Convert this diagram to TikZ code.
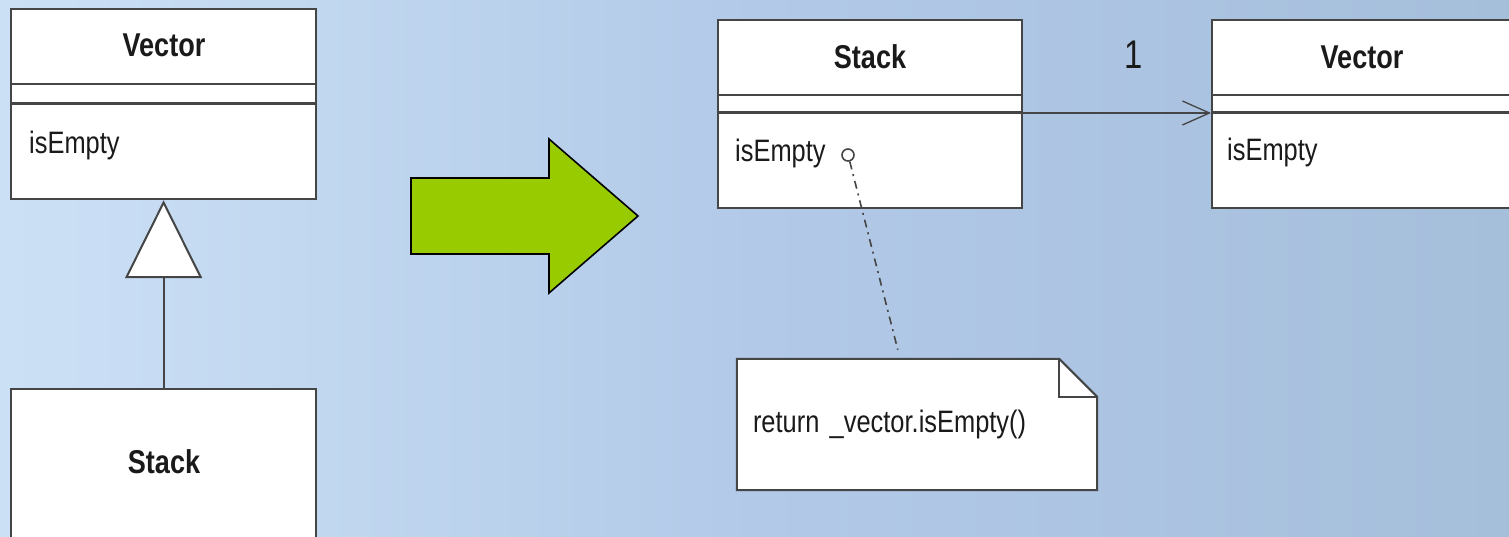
\documentclass[tikz,border=0pt]{standalone}
\usepackage{fontspec}
\setmainfont[FakeStretch=0.82]{Liberation Sans}
\usetikzlibrary{arrows.meta,calc}
\definecolor{bgA}{HTML}{E8F0FA}
\definecolor{bgB}{HTML}{C9DEF4}
\definecolor{bgC}{HTML}{B2CAE8}
\definecolor{bgD}{HTML}{A5BEDA}
\definecolor{bgE}{HTML}{A0BBD7}
\definecolor{boxline}{HTML}{454545}
\definecolor{txt}{HTML}{1A1A1A}
\definecolor{arrowgreen}{HTML}{99CC00}
\pgfdeclarehorizontalshading{bgshade}{100bp}{color(0bp)=(bgA); color(28bp)=(bgB); color(50bp)=(bgC); color(75bp)=(bgD); color(100bp)=(bgE)}
\pgfdeclarelayer{bglayer}
\pgfdeclarelayer{notelayer}
\pgfsetlayers{bglayer,notelayer,main}
\tikzset{
  classbox/.style={draw=boxline, fill=white, line width=2.2pt, rectangle, inner sep=0pt, anchor=north west},
  classtitle/.style={font=\fontsize{33}{36}\selectfont\bfseries, text=txt, inner sep=0pt},
  member/.style={font=\fontsize{31}{34}\selectfont, text=txt, anchor=west, inner sep=0pt},
  septhin/.style={draw=boxline, line width=1.6pt},
  septhick/.style={draw=boxline, line width=3pt},
  notetext/.style={font=\fontsize{31}{34}\selectfont, text=txt, inner sep=16pt, align=left},
  noteline/.style={draw=boxline, line width=2pt, line join=miter}
}
\begin{document}
\begin{tikzpicture}[x=1pt,y=-1pt]
\useasboundingbox (0,0) rectangle (1509,537);
\begin{pgfonlayer}{bglayer}
\shade[shading=bgshade] (0,0) rectangle (1509,537);
\end{pgfonlayer}

% left: Vector
\node[classbox, minimum width=305pt, minimum height=190pt] (vecL) at (10,8) {};
\node[classtitle] (vecLt) at (164,45) {Vector};
\draw[septhin] ($(vecL.north west)+(0,76)$) -- ($(vecL.north east)+(0,76)$);
\draw[septhick] ($(vecL.north west)+(0,96)$) -- ($(vecL.north east)+(0,96)$);
\node[member] (vecLm) at (29,145) {isEmpty};

% left: Stack
\node[classbox, minimum width=305pt, minimum height=160pt] (stackL) at (10,388) {};
\node[classtitle] (stackLt) at (164,462) {Stack};

% inheritance
\draw[draw=boxline, line width=2pt, -{Triangle[length=78pt,width=77pt,fill=white,line width=2pt]}] (stackL.north) -- (vecL.south);

% green arrow
\draw[line width=1.6pt, fill=arrowgreen, line join=miter] (411,178) -- (549,178) -- (549,139) -- (638,216) -- (549,293) -- (549,254) -- (411,254) -- cycle;

% right: Stack
\node[classbox, minimum width=304pt, minimum height=188pt] (stackR) at (717,19) {};
\node[classtitle] (stackRt) at (870,57) {Stack};
\draw[septhin] ($(stackR.north west)+(0,76)$) -- ($(stackR.north east)+(0,76)$);
\draw[septhick] ($(stackR.north west)+(0,94)$) -- ($(stackR.north east)+(0,94)$);
\node[member] (stackRm) at (735,153) {isEmpty};
\node[draw=boxline, line width=1.6pt, circle, minimum size=12pt, inner sep=0pt] (circ) at (848,155) {};

% right: Vector
\node[classbox, minimum width=304pt, minimum height=188pt] (vecR) at (1211,19) {};
\node[classtitle] (vecRt) at (1362,57) {Vector};
\draw[septhin] ($(vecR.north west)+(0,76)$) -- ($(vecR.north east)+(0,76)$);
\draw[septhick] ($(vecR.north west)+(0,94)$) -- ($(vecR.north east)+(0,94)$);
\node[member] (vecRm) at (1227,152) {isEmpty};

% association
\draw[draw=boxline, line width=1.5pt, -{Straight Barb[length=27pt,width=24pt,line width=1.3pt]}] ($(stackR.north east)+(0,94)$) -- ($(vecR.north west)+(0,94)$);
\node[font=\fontsize{40}{44}\selectfont, text=txt, inner sep=0pt] (mult) at (1134,55) {1};

% note
\node[notetext, minimum width=360pt, minimum height=131pt, text width=328pt] (note) at (917,424.5) {return \_vector.isEmpty()};
\begin{pgfonlayer}{notelayer}
\fill[white] (note.north west) -- ($(note.north east)+(-38,0)$) -- ($(note.north east)+(0,38)$) -- (note.south east) -- (note.south west) -- cycle;
\end{pgfonlayer}
\draw[noteline] (note.north west) -- ($(note.north east)+(-38,0)$) -- ($(note.north east)+(0,38)$) -- (note.south east) -- (note.south west) -- cycle;
\draw[noteline, line width=1.6pt] ($(note.north east)+(-38,0)$) -- ($(note.north east)+(-38,38)$) -- ($(note.north east)+(0,38)$);

% note anchor line
\draw[draw=boxline, line width=1.6pt, dash pattern=on 8pt off 5pt on 2pt off 5pt] (circ.-75) -- ($(note.north west)+(161,-9)$);
\end{tikzpicture}
\end{document}
